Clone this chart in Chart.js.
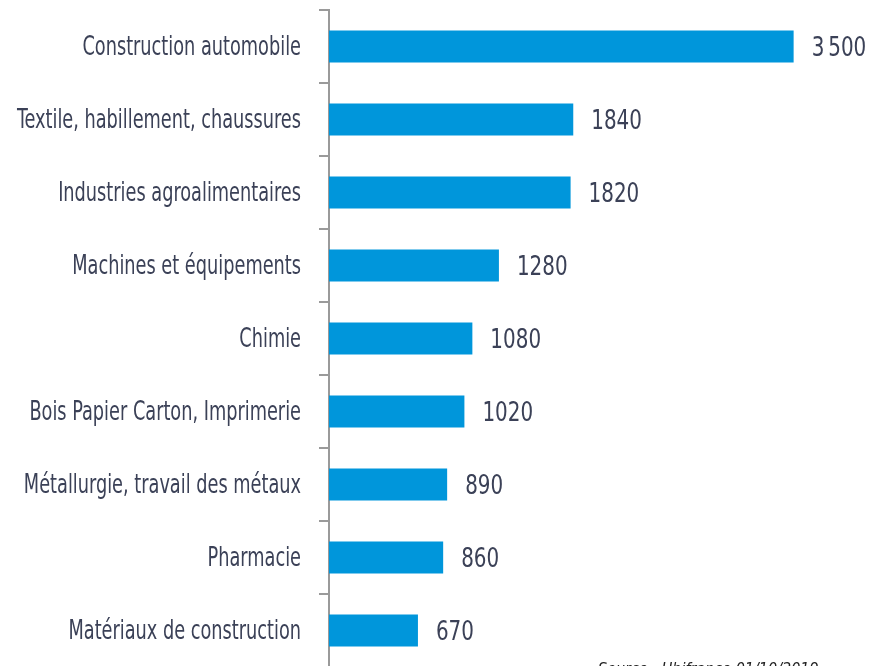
<!DOCTYPE html>
<html>
<head>
<meta charset="utf-8">
<script src="https://cdn.jsdelivr.net/npm/chart.js@4/dist/chart.umd.min.js"></script>
<style>
  html, body { margin: 0; padding: 0; background: #fff; overflow: hidden; }
  #wrap { width: 870px; height: 690px; }
</style>
</head>
<body>
<div id="wrap"><canvas id="chart" width="870" height="690"></canvas></div>
<script>
const categories = [
    'Construction automobile',
    'Textile, habillement, chaussures',
    'Industries agroalimentaires',
    'Machines et équipements',
    'Chimie',
    'Bois Papier Carton, Imprimerie',
    'Métallurgie, travail des métaux',
    'Pharmacie',
    'Matériaux de construction'
];
const values = [3500, 1840, 1820, 1280, 1080, 1020, 890, 860, 670];
const valueLabels = ['3\u2009500', '1840', '1820', '1280', '1080', '1020', '890', '860', '670'];
const sourceText = 'Source : Ubifrance 01/10/2019';

const textColor = '#3b4157';
const fontFamily = '"DejaVu Sans Condensed", "DejaVu Sans", sans-serif';

// the reference uses a narrow font: draw text squeezed horizontally
function narrowText(ctx, text, x, y, sx) {
    ctx.save();
    ctx.translate(x, y);
    ctx.scale(sx, 1);
    ctx.fillText(text, 0, 0);
    ctx.restore();
}

const labelPlugin = {
    id: 'labelPlugin',
    afterDatasetsDraw(chart) {
        const ctx = chart.ctx;
        const yScale = chart.scales.y;
        const meta = chart.getDatasetMeta(0);
        ctx.save();
        ctx.fillStyle = textColor;
        ctx.textBaseline = 'middle';

        // category labels, right aligned left of the axis
        ctx.font = '27px ' + fontFamily;
        ctx.textAlign = 'right';
        categories.forEach((c, i) => {
            narrowText(ctx, c, yScale.right - 28, yScale.getPixelForValue(i) + 1, 0.73);
        });

        // value labels after each bar
        ctx.textAlign = 'left';
        meta.data.forEach((bar, i) => {
            narrowText(ctx, valueLabels[i], bar.x + 18, bar.y + 2, 0.82);
        });

        ctx.font = 'italic 16px ' + fontFamily;
        ctx.fillStyle = '#222';
        ctx.textBaseline = 'top';
        ctx.fillText(sourceText, 598, 662);
        ctx.restore();
    }
};

new Chart('chart', {
    type: 'bar',
    data: {
        labels: categories,
        datasets: [{
            data: values,
            backgroundColor: '#0096db',
            barPercentage: 0.44,
            categoryPercentage: 1
        }]
    },
    options: {
        indexAxis: 'y',
        responsive: false,
        animation: false,
        layout: { padding: { top: 10, bottom: 23, left: 0, right: 10 } },
        plugins: {
            legend: { display: false },
            tooltip: { enabled: false }
        },
        scales: {
            x: {
                display: false,
                min: 0,
                max: 4000
            },
            y: {
                afterFit(scale) { scale.width = 329; },
                border: { color: '#9a9a9a', width: 2 },
                grid: {
                    offset: true,
                    drawOnChartArea: false,
                    color: '#9a9a9a',
                    lineWidth: 2,
                    tickLength: 10
                },
                ticks: { display: false }
            }
        }
    },
    plugins: [labelPlugin]
});
</script>
</body>
</html>
